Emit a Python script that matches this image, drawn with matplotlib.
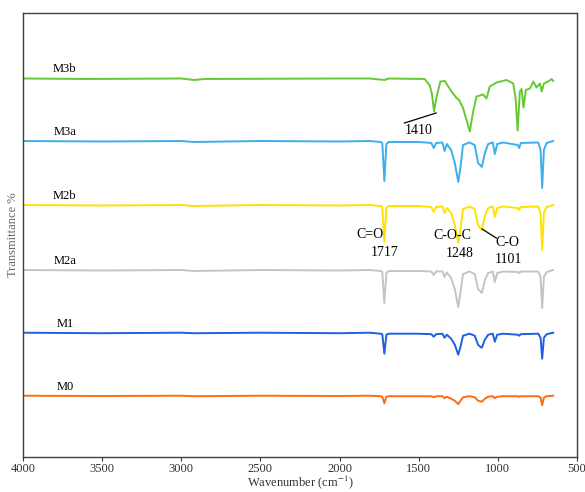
import matplotlib.pyplot as plt
import numpy as np

plt.rcParams['font.family'] = ['Liberation Serif', 'DejaVu Serif']
plt.rcParams['mathtext.fontset'] = 'stix'

# shared wavenumber grid for M0 - M3a (cm-1)
wn = [4000, 3500, 3000, 2920, 2500, 2000, 1810, 1740, 1730, 1717, 1704, 1690,
      1500, 1420, 1405, 1390, 1350, 1337, 1322, 1295, 1272, 1250, 1236, 1220,
      1180, 1146, 1125, 1112, 1101, 1082, 1061, 1032, 1019, 1004, 966, 875,
      865, 855, 745, 730, 720, 709, 692, 650]

# band drop below each trace baseline (a.u.)
m3a = [0, 0.5, 0, 1, 0, 0.5, 0, 1, 2, 40, 3, 1,
       1, 2, 7, 2, 1.5, 10, 3, 9, 22, 41, 26, 4,
       1.5, 4, 22, 24, 26, 12, 3, 1.5, 13, 3, 1.5, 4,
       7, 2, 1.5, 9, 47, 9, 2, 0]
m2b = [0, 0.5, 0, 1, 0, 0.5, 0, 1, 2, 37, 3, 1,
       1, 2, 7, 2, 1.5, 8, 3, 8, 20, 38, 24, 4,
       1.5, 4, 20, 23, 25, 11, 3, 1.5, 12, 3, 1.5, 3,
       5, 2, 1.5, 8, 45, 8, 2, 0]
m2a = [0, 0.5, 0, 1, 0, 0.5, 0, 1, 2, 33, 3, 1,
       1, 1.5, 5, 1.5, 1.5, 7, 2.5, 8, 19, 37, 22, 4,
       1.5, 4, 19, 21, 23, 10, 3, 1.5, 12, 3, 1.5, 2,
       3, 1.5, 1.5, 7, 38, 7, 2, 0]
m1 = [0, 0.5, 0, 0.5, 0, 0.5, 0, 1, 1.5, 21, 2, 1,
      1, 1.5, 4, 1.5, 1, 5, 2, 6, 12, 22, 14, 3,
      1, 3, 12, 14, 15, 7, 2, 1, 9, 2, 1, 2,
      3, 1.5, 1, 5, 26, 5, 1.5, 0]
m0 = [0, 0.3, 0, 0.5, 0, 0.3, 0, 0.5, 1, 7.5, 1, 0.5,
      0.5, 0.5, 1.5, 0.5, 0.5, 2.5, 1, 3, 5, 8.5, 5, 1.5,
      0.5, 1.5, 5, 5.5, 6, 3, 1, 0.5, 2.5, 1, 0.5, 0.5,
      1, 0.5, 0.5, 2, 9.5, 2, 0.5, 0]

# M3b has its own band set
wn_m3b = [4000, 3600, 3000, 2920, 2850, 2000, 1810, 1715, 1690, 1462, 1430,
          1416, 1403, 1388, 1363, 1335, 1293, 1261, 1245, 1220, 1177, 1156,
          1135, 1093, 1072, 1051, 1008, 945, 903, 888, 875, 861, 850, 838,
          823, 797, 776, 756, 734, 723, 709, 682, 660, 650]
m3b = [0, 0.5, 0, 1.5, 0.5, 0, 0, 1.5, 0, 0.5, 7,
       16, 33, 19, 3, 2.5, 13, 19.5, 21.5, 29.5, 53, 33,
       18, 16, 20, 8, 4, 1.5, 5, 19.5, 52, 13, 10.5, 29,
       11.5, 10, 3, 9, 5, 13, 5, 3, 0.5, 2.5]

names = ['M0', 'M1', 'M2a', 'M2b', 'M3a', 'M3b']
offsets = [61.3, 124.3, 187, 252, 316, 378.5]
colors = ['#ff6a13', '#1f5fe0', '#c4c4c4', '#ffe200', '#3cb0ec', '#66c932']
series = [(wn, m0), (wn, m1), (wn, m2a), (wn, m2b), (wn, m3a), (wn_m3b, m3b)]

fig = plt.figure(figsize=(5.85, 4.92), dpi=100)
ax = fig.add_axes([0.0393, 0.0711, 0.947, 0.9025])

for (x, d), off, c, name in zip(series, offsets, colors, names):
    ax.plot(x, off - np.array(d), color=c, lw=1.4)
    ax.text(3735, off + 3, name, ha='center', va='bottom', fontsize=9)

# band annotations
ax.text(1810, 223, 'C=O', ha='center', va='center', fontsize=10)
ax.text(1717, 205, '1717', ha='center', va='center', fontsize=10)
ax.text(1290, 222, 'C-O-C', ha='center', va='center', fontsize=10)
ax.text(1240, 204, '1248', ha='center', va='center', fontsize=10)
ax.text(940, 215, 'C-O', ha='center', va='center', fontsize=10)
ax.text(935, 198, '1101', ha='center', va='center', fontsize=10)
ax.plot([1100, 1010], [228, 219], color='black', lw=0.9)
ax.text(1500, 326, '1410', ha='center', va='center', fontsize=10)
ax.plot([1390, 1590], [344, 334], color='black', lw=0.9)

ax.set_xlim(4000, 500)
ax.set_ylim(0, 444)
ax.set_xticks([4000, 3500, 3000, 2500, 2000, 1500, 1000, 500])
ax.set_yticks([])
ax.tick_params(axis='x', direction='out', length=3, width=0.8,
               labelsize=9, colors='#333333', pad=1)
for s in ax.spines.values():
    s.set_color('#404040')
    s.set_linewidth(1.0)
ax.set_xlabel('Wavenumber (cm$^{-1}$)', fontsize=9, color='#333333', labelpad=-1)
ax.set_ylabel('Transmittance %', fontsize=9, color='#666666', labelpad=3)

fig.savefig('out.png', dpi=100)
